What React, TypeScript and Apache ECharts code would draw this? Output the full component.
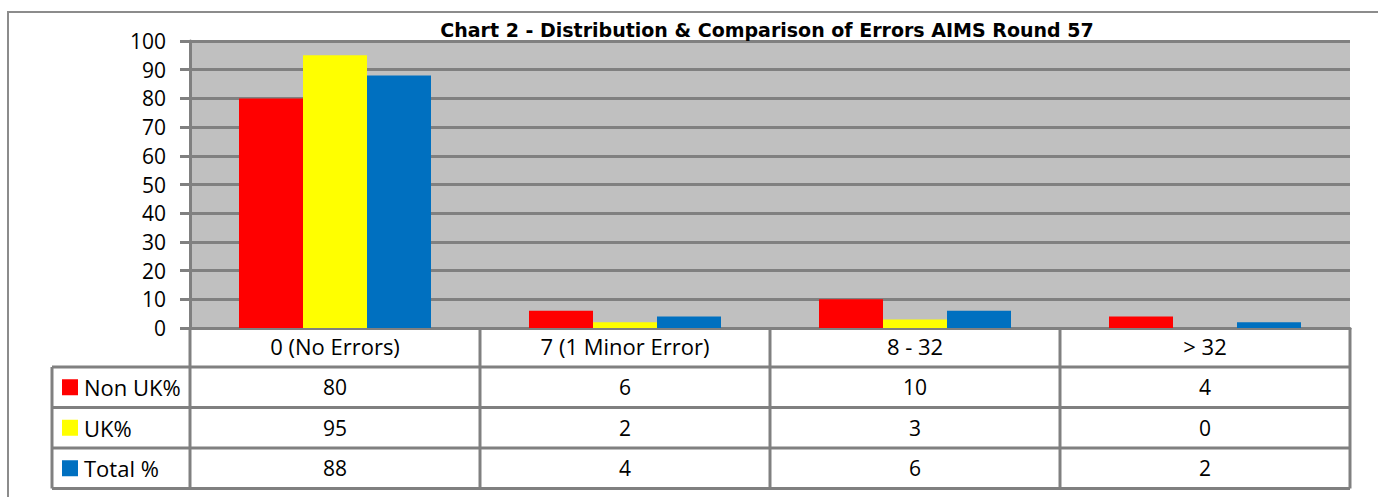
import React, { useEffect, useRef } from "react";
import * as echarts from "echarts";

const categories = ["0 (No Errors)", "7 (1 Minor Error)", "8 - 32", "> 32"];
const seriesNames = ["Non UK%", "UK%", "Total %"];
const nonUK = [80, 6, 10, 4];
const uk = [95, 2, 3, 0];
const total = [88, 4, 6, 2];
const colors = ["#FF0000", "#FFFF00", "#0070C0"];
const titleText = "Chart 2 - Distribution & Comparison of Errors AIMS Round 57";

const W = 1378;
const H = 497;
const GL = 190;
const GR = 1350;
const GT = 41;
const GB = 328;
const ROW = 40.5;
const LEG_L = 52;
const LINE = "#808080";
const FONT = "'Open Sans', Lato, sans-serif";

export default function App() {
  const ref = useRef<HTMLDivElement>(null);
  useEffect(() => {
    if (!ref.current) return;
    const chart = echarts.init(ref.current, undefined, { renderer: "svg" });
    const data = [nonUK, uk, total];
    const colW = (GR - GL) / categories.length;
    const headerBottom = 367;
    const tableBottom = headerBottom + ROW * seriesNames.length;
    const graphics: any[] = [];
    graphics.push({
      type: "rect",
      shape: { x: 8, y: 12, width: W + 20, height: H + 20 },
      style: { fill: "none", stroke: "#8c8c8c", lineWidth: 2 },
      z: 0,
    });
    for (let r = 0; r <= seriesNames.length; r++) {
      const y = headerBottom + ROW * r;
      graphics.push({
        type: "line",
        shape: { x1: LEG_L, y1: y, x2: GR, y2: y },
        style: { stroke: LINE, lineWidth: 3 },
        z: 10,
      });
    }
    graphics.push({
      type: "line",
      shape: { x1: LEG_L, y1: headerBottom, x2: LEG_L, y2: tableBottom },
      style: { stroke: LINE, lineWidth: 3 },
      z: 10,
    });
    for (let c = 0; c <= categories.length; c++) {
      const x = GL + colW * c;
      graphics.push({
        type: "line",
        shape: { x1: x, y1: GB, x2: x, y2: tableBottom },
        style: { stroke: LINE, lineWidth: 3 },
        z: 10,
      });
    }
    seriesNames.forEach((name, i) => {
      const cy = headerBottom + ROW * i + ROW / 2;
      graphics.push({
        type: "rect",
        shape: { x: 62, y: cy - 8, width: 16, height: 16 },
        style: { fill: colors[i] },
        z: 10,
      });
      graphics.push({
        type: "text",
        x: 84,
        y: cy,
        style: {
          text: name,
          fill: "#000",
          font: `22px ${FONT}`,
          textAlign: "left",
          textVerticalAlign: "middle",
        },
        z: 10,
      });
      data[i].forEach((v, j) => {
        graphics.push({
          type: "text",
          x: GL + colW * j + colW / 2,
          y: cy,
          style: {
            text: String(v),
            fill: "#000",
            font: `21px ${FONT}`,
            textAlign: "center",
            textVerticalAlign: "middle",
          },
          z: 10,
        });
      });
    });

    chart.setOption({
      animation: false,
      backgroundColor: "#fff",
      title: {
        text: titleText,
        left: 762,
        textAlign: "center",
        top: 15,
        textStyle: { fontFamily: "'DejaVu Sans', sans-serif", fontWeight: "bold", fontSize: 19, color: "#000" },
      },
      grid: {
        left: GL,
        right: W - GR,
        top: GT,
        bottom: H - GB,
        show: true,
        backgroundColor: "#C0C0C0",
        borderWidth: 0,
      },
      xAxis: {
        type: "category",
        data: categories,
        axisLine: { show: true, lineStyle: { color: LINE, width: 3 } },
        axisTick: { show: false },
        axisLabel: { color: "#000", fontFamily: FONT, fontSize: 22, margin: 7 },
        splitLine: { show: false },
      },
      yAxis: {
        type: "value",
        min: 0,
        max: 100,
        interval: 10,
        axisLine: { show: true, lineStyle: { color: LINE, width: 3 } },
        axisTick: { show: true, length: 10, lineStyle: { color: LINE, width: 3 } },
        axisLabel: { color: "#000", fontFamily: FONT, fontSize: 21, margin: 24 },
        splitLine: { show: true, lineStyle: { color: LINE, width: 3 } },
      },
      series: seriesNames.map((name, i) => ({
        name,
        type: "bar",
        data: data[i],
        barWidth: 64,
        barGap: "0%",
        itemStyle: { color: colors[i] },
      })),
      graphic: graphics,
    });
    return () => chart.dispose();
  }, []);
  return (
    <div
      ref={ref}
      style={{ position: "absolute", left: 0, top: 0, width: W, height: H }}
    />
  );
}
